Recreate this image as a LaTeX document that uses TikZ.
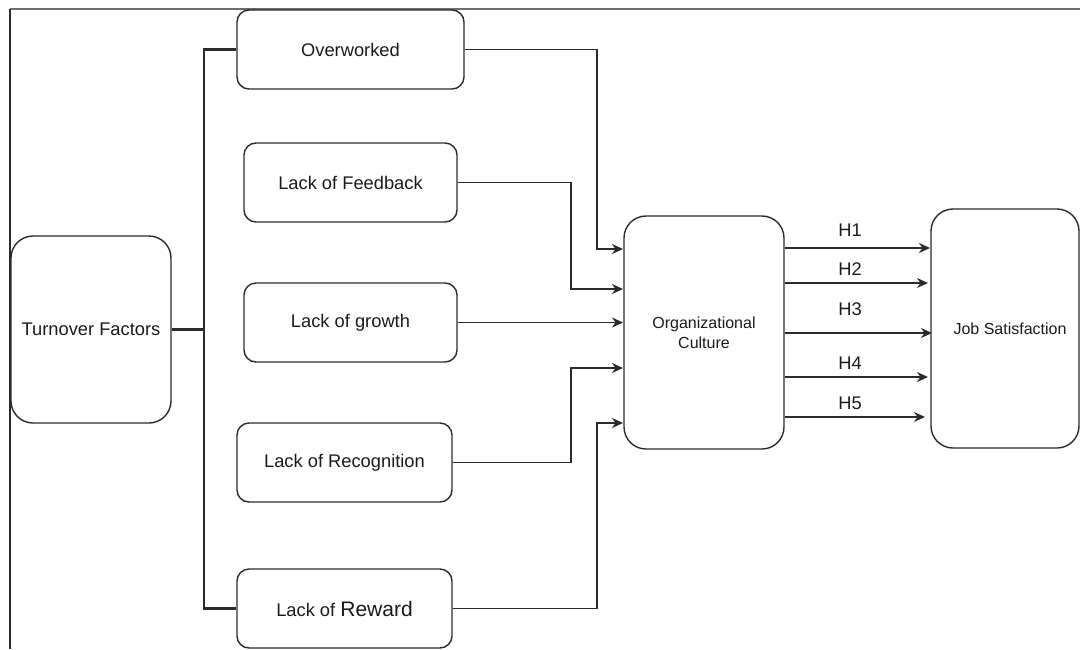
\documentclass[tikz,border=0pt]{standalone}
\usepackage{fontspec}
\setmainfont{Liberation Sans}
\usetikzlibrary{arrows.meta}
\definecolor{ln}{HTML}{2B2B2B}
\definecolor{tx}{HTML}{1A1A1A}
\definecolor{frm}{HTML}{6E6E6E}
\begin{document}
\begin{tikzpicture}[x=1pt,y=-1pt,
  box/.style={draw=ln, line width=1.4pt, rounded corners=12pt, inner sep=0pt, text=tx,
    font=\fontsize{18.3}{22}\selectfont},
  bigbox/.style={box, rounded corners=22pt},
  conn/.style={draw=ln, line width=1.4pt},
  arr/.style={conn, -{Stealth[length=11pt,width=10pt,inset=3.5pt]}},
  brk/.style={draw=ln, line width=2.6pt},
  hlab/.style={text=tx, inner sep=0pt, font=\fontsize{18.3}{22}\selectfont}]
\useasboundingbox (0,0) rectangle (1080,649);
% frame
\draw[frm, line width=2.2pt] (1080,9) -- (10,9);
\draw[ln, line width=1.4pt] (10,8.5) -- (10,649);

% left boxes
\node[bigbox, minimum width=160pt, minimum height=187pt] (turn) at (91,329.5) {Turnover Factors};
\node[box, minimum width=227pt, minimum height=79pt] (over) at (350.5,49.5) {Overworked};
\node[box, minimum width=213pt, minimum height=79pt] (feed) at (350.5,182.5) {Lack of Feedback};
\node[box, minimum width=213pt, minimum height=79pt] (grow) at (350.5,322.5) {Lack of growth};
\node[box, minimum width=215pt, minimum height=79pt] (recog) at (344.5,462.5) {Lack of Recognition};
\node[box, minimum width=215pt, minimum height=79pt] (rew) at (344.5,608.5) {Lack of {\fontsize{21}{24}\selectfont Reward}};

% middle and right boxes
\node[bigbox, minimum width=160pt, minimum height=233pt, align=center,
  font=\fontsize{16}{20}\selectfont] (org) at (704,332.5) {Organizational\\Culture};
\node[bigbox, minimum width=148pt, minimum height=239pt,
  font=\fontsize{16}{20}\selectfont] (job) at (1005,328.5) {\hspace*{10pt}Job Satisfaction};

% bracket
\coordinate (bm) at (204,329.5);
\coordinate (bt) at (204,49.5);
\coordinate (bb) at (204,608.5);
\draw[brk] (turn.east) -- (bm);
\draw[brk, line join=miter] (over.west) -- (bt) -- (bb) -- (rew.west);

% arrows into Organizational Culture
\coordinate (t1) at (623,249);
\coordinate (t2) at (623,289);
\coordinate (t3) at (623,322.5);
\coordinate (t4) at (623,368);
\coordinate (t5) at (623,423);
\draw[arr] (over.east) -| ([xshift=-26pt]t1) -- (t1);
\draw[arr] (feed.east) -| ([xshift=-52pt]t2) -- (t2);
\draw[arr] (grow.east) -- (t3);
\draw[arr] (recog.east) -| ([xshift=-52pt]t4) -- (t4);
\draw[arr] (rew.east) -| ([xshift=-26pt]t5) -- (t5);

% hypotheses arrows
\coordinate (e1) at (930,248);
\coordinate (e2) at (928,283);
\coordinate (e3) at (932,333);
\coordinate (e4) at (928,377);
\coordinate (e5) at (925,417);
\draw[arr] (org.east |- e1) -- (e1);
\draw[arr] (org.east |- e2) -- (e2);
\draw[arr] (org.east |- e3) -- (e3);
\draw[arr] (org.east |- e4) -- (e4);
\draw[arr] (org.east |- e5) -- (e5);
\node[hlab] (h1) at (850,230) {H1};
\node[hlab] (h2) at (850,269) {H2};
\node[hlab] (h3) at (850,309) {H3};
\node[hlab] (h4) at (850,363) {H4};
\node[hlab] (h5) at (850,403) {H5};
\end{tikzpicture}
\end{document}
